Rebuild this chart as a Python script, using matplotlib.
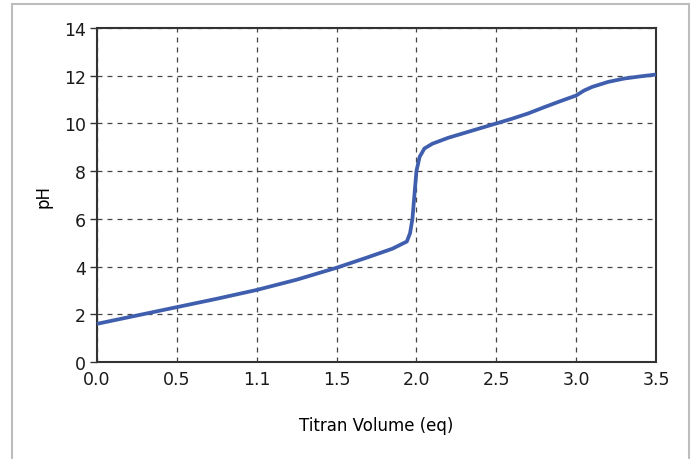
import matplotlib.pyplot as plt
from matplotlib.patches import Rectangle

# titration curve: volume of titrant (eq) vs pH
volume = [0.0, 0.25, 0.5, 0.75, 1.0, 1.25, 1.5, 1.7, 1.85, 1.94, 1.96, 1.975,
          1.99, 2.0, 2.02, 2.05, 2.1, 2.2, 2.3, 2.4, 2.5, 2.6, 2.7, 2.8, 2.9,
          3.0, 3.05, 3.1, 3.2, 3.3, 3.4, 3.5]
ph = [1.6, 1.95, 2.3, 2.65, 3.02, 3.45, 3.95, 4.4, 4.75, 5.05, 5.4, 6.0,
      7.2, 8.0, 8.6, 8.95, 9.15, 9.4, 9.6, 9.8, 10.0, 10.2, 10.42, 10.68, 10.93,
      11.17, 11.38, 11.53, 11.74, 11.88, 11.97, 12.05]

xtick_pos = [0.0, 0.5, 1.0, 1.5, 2.0, 2.5, 3.0, 3.5]
xtick_labels = ["0.0", "0.5", "1.1", "1.5", "2.0", "2.5", "3.0", "3.5"]
ytick_pos = [0, 2, 4, 6, 8, 10, 12, 14]

plt.rcParams['font.family'] = ['DejaVu Sans']

fig = plt.figure(figsize=(6.94, 4.6), dpi=100)
# light grey frame around the whole chart
fig.patches.append(Rectangle((12 / 694, -0.01), 677 / 694, 1 - 5 / 460 + 0.01,
                             transform=fig.transFigure, fill=False,
                             edgecolor='#bdbdbd', linewidth=1.5))

ax = fig.add_axes([97 / 694, 1 - 363 / 460, 559 / 694, 334 / 460])
ax.plot(volume, ph, color='#3f5fae', linewidth=2.7, solid_capstyle='butt',
        clip_on=False, zorder=3)

ax.set_xlim(0, 3.5)
ax.set_ylim(0, 14)
ax.set_xticks(xtick_pos)
ax.set_xticklabels(xtick_labels)
ax.set_xticks([0.0, 3.5], minor=True)
ax.set_yticks(ytick_pos)
ax.tick_params(axis='both', labelsize=12.5, direction='out', length=5,
               width=1, color='#333333', labelcolor='#1a1a1a')
ax.tick_params(axis='x', which='major', length=0, pad=6)
ax.tick_params(axis='x', which='minor', length=5, width=1.5, color='#333333')
ax.tick_params(axis='y', pad=3)

ax.grid(True, linestyle=(0, (4, 4)), color='#444444', linewidth=0.9)
for s in ax.spines.values():
    s.set_color('#333333')
    s.set_linewidth(1.5)

ax.set_xlabel("Titran Volume (eq)", fontsize=12, labelpad=20)
ax.set_ylabel("pH", fontsize=12, labelpad=8)

fig.savefig("out.png", dpi=100)
